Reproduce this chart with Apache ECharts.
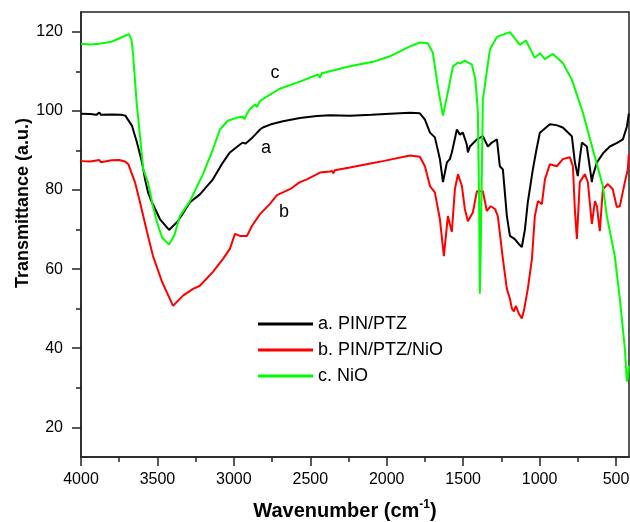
<!DOCTYPE html>
<html>
<head>
<meta charset="utf-8">
<script src="https://cdn.jsdelivr.net/npm/echarts@6/dist/echarts.min.js"></script>
<style>
html,body{margin:0;padding:0;background:#fff;}
#chart{width:630px;height:522px;}
</style>
</head>
<body>
<div id="chart"></div>
<script>
// Series names
const seriesNames = ['a. PIN/PTZ', 'b. PIN/PTZ/NiO', 'c. NiO'];
const seriesColors = ['#000000', '#ff0000', '#00ff00'];

// Tick values
const xTicks = [500, 1000, 1500, 2000, 2500, 3000, 3500, 4000];
const xMinorTicks = [750, 1250, 1750, 2250, 2750, 3250, 3750];
const yTicks = [20, 40, 60, 80, 100, 120];
const yMinorTicks = [30, 50, 70, 90, 110];

// Curve a. PIN/PTZ  [wavenumber, transmittance]
const curveA = [
  [4000,99.3],[3940,99.2],[3900,99.0],[3880,99.6],[3870,99.0],[3800,99.1],[3740,99.0],[3710,98.8],
  [3699,98.5],[3666,96.2],[3634,92.0],[3601,87.0],[3580,82.5],[3560,79.2],[3536,76.9],[3483,72.6],
  [3424,69.9],[3366,72.1],[3287,76.9],[3222,78.9],[3137,82.7],[3071,87.0],[3026,89.5],[2960,91.5],
  [2941,92.0],[2925,91.7],[2914,91.2],[2900,92.5],[2880,93.2],[2860,94.0],[2849,94.5],[2829,95.3],
  [2810,95.8],[2750,96.7],[2679,97.4],[2568,98.2],[2457,98.7],[2372,98.9],[2241,98.8],[2100,99.0],
  [1979,99.3],[1848,99.5],[1783,99.4],[1750,97.8],[1717,94.5],[1685,93.3],[1652,87.8],[1632,82.0],
  [1606,87.0],[1587,87.8],[1574,89.5],[1541,95.3],[1521,94.0],[1502,94.5],[1476,91.5],[1469,89.5],
  [1456,91.0],[1410,92.8],[1371,93.6],[1338,91.0],[1312,92.0],[1279,92.8],[1260,86.0],[1240,85.2],
  [1214,73.4],[1194,68.4],[1162,67.6],[1135,66.3],[1116,65.6],[1096,70.0],[1077,76.9],[1044,85.2],
  [1020,90.3],[998,94.5],[933,96.6],[890,96.4],[848,95.8],[789,93.6],[769,87.0],[750,83.5],
  [737,88.0],[723,92.0],[691,91.0],[665,84.0],[658,82.0],[652,83.5],[625,87.0],[580,89.5],
  [540,91.0],[490,92.0],[455,92.8],[429,96.0],[416,99.3]
];

// Curve b. PIN/PTZ/NiO
const curveB = [
  [4000,87.3],[3940,87.2],[3880,87.6],[3870,87.0],[3800,87.5],[3750,87.6],[3712,87.2],[3690,86.5],
  [3680,86.0],[3647,82.0],[3614,76.9],[3568,69.4],[3529,63.3],[3470,56.8],[3398,50.7],[3333,53.3],
  [3267,55.0],[3222,55.8],[3137,59.3],[3071,62.6],[3026,65.1],[2993,68.9],[2960,68.4],[2914,68.4],
  [2882,70.9],[2829,73.9],[2764,76.5],[2718,78.7],[2633,80.2],[2568,82.0],[2522,82.7],[2437,84.4],
  [2372,84.7],[2358,84.8],[2350,84.2],[2340,85.0],[2241,85.7],[2064,87.0],[2025,87.3],[1848,88.7],
  [1783,88.4],[1750,86.0],[1717,81.0],[1685,79.4],[1652,72.6],[1626,63.3],[1600,73.4],[1574,69.4],
  [1554,80.2],[1534,84.0],[1508,81.0],[1489,75.2],[1469,72.1],[1436,74.4],[1410,79.7],[1371,79.7],
  [1345,74.7],[1319,75.9],[1292,75.2],[1273,73.4],[1240,62.6],[1214,55.0],[1194,52.5],[1181,50.0],
  [1168,49.3],[1155,50.7],[1135,48.7],[1116,47.5],[1100,50.0],[1077,55.0],[1050,62.6],[1031,73.4],
  [1011,77.2],[985,76.4],[965,82.7],[933,86.5],[887,86.0],[848,87.8],[802,88.3],[782,86.0],
  [769,75.0],[756,67.6],[737,82.0],[704,84.0],[684,82.0],[658,71.4],[638,77.2],[625,75.9],
  [606,69.6],[586,80.2],[553,81.5],[521,80.2],[495,75.7],[475,75.9],[442,82.0],[423,85.2],[416,89.0]
];

// Curve c. NiO
const curveC = [
  [4000,117.0],[3940,116.8],[3880,117.0],[3800,117.5],[3750,118.3],[3712,119.0],[3700,119.3],
  [3686,119.4],[3670,118.0],[3660,114.7],[3636,102.1],[3614,93.6],[3593,85.2],[3562,82.0],
  [3530,76.0],[3503,71.9],[3470,68.0],[3424,66.2],[3390,68.5],[3353,73.4],[3287,77.2],[3202,84.0],
  [3137,90.3],[3091,95.3],[3040,97.5],[2980,98.3],[2941,98.5],[2930,97.9],[2914,99.3],[2895,100.5],
  [2860,101.6],[2849,101.0],[2829,102.5],[2764,104.1],[2700,105.6],[2568,107.4],[2450,109.2],
  [2437,108.4],[2425,109.5],[2241,111.3],[2090,112.4],[1979,113.8],[1900,115.3],[1848,116.3],
  [1783,117.3],[1731,117.1],[1698,114.7],[1665,106.0],[1632,98.8],[1606,103.6],[1567,111.2],
  [1534,112.2],[1520,112.0],[1489,112.7],[1443,111.7],[1420,108.0],[1404,100.0],[1395,75.0],
  [1391,53.8],[1385,65.0],[1371,102.9],[1325,115.5],[1279,118.7],[1194,119.9],[1129,116.7],
  [1090,117.8],[1031,113.4],[998,114.6],[965,113.1],[913,114.4],[848,112.1],[789,107.9],
  [717,99.6],[652,90.3],[586,81.0],[560,73.4],[508,63.3],[475,52.5],[442,39.9],[429,31.6],
  [423,32.5],[416,35.6]
];

const curves = [curveA, curveB, curveC];
const FONT = "'Liberation Sans', Arial, sans-serif";

const chart = echarts.init(document.getElementById('chart'), null, {renderer: 'canvas'});

const axisLineStyle = {color: '#222', width: 1.5};
const plain = v => String(v);

const option = {
  backgroundColor: '#fff',
  animation: false,
  grid: {left: 81, right: 1, top: 12, bottom: 65, containLabel: false, outerBoundsMode: 'none',
         show: true, borderColor: '#222', borderWidth: 1.5, backgroundColor: 'transparent'},
  legend: {
    orient: 'vertical', left: 258, top: 314, padding: 0, itemWidth: 55, itemHeight: 3, itemGap: 6, icon: 'rect',
    textStyle: {fontSize: 18, fontFamily: FONT, color: '#000', lineHeight: 20},
    data: seriesNames
  },
  xAxis: [
    {
      type: 'value', inverse: true, min: 415, max: 4000, position: 'bottom',
      axisLine: {show: true, lineStyle: axisLineStyle},
      axisTick: {show: true, inside: false, length: 9, lineStyle: axisLineStyle, customValues: xTicks},
      axisLabel: {show: true, fontSize: 16, fontFamily: FONT, color: '#000', margin: 15, customValues: xTicks, formatter: plain},
      splitLine: {show: false}
    },
    {
      type: 'value', inverse: true, min: 415, max: 4000, position: 'bottom',
      axisLine: {show: false},
      axisTick: {show: true, inside: false, length: 5, lineStyle: axisLineStyle, customValues: xMinorTicks},
      axisLabel: {show: false},
      splitLine: {show: false}
    }
  ],
  yAxis: [
    {
      type: 'value', min: 12.5, max: 125, position: 'left',
      axisLine: {show: true, lineStyle: axisLineStyle},
      axisTick: {show: true, inside: false, length: 9, lineStyle: axisLineStyle, customValues: yTicks},
      axisLabel: {show: true, fontSize: 16, fontFamily: FONT, color: '#000', margin: 18, customValues: yTicks, formatter: plain},
      splitLine: {show: false}
    },
    {
      type: 'value', min: 12.5, max: 125, position: 'left',
      axisLine: {show: false},
      axisTick: {show: true, inside: false, length: 5, lineStyle: axisLineStyle, customValues: yMinorTicks},
      axisLabel: {show: false},
      splitLine: {show: false}
    }
  ],
  series: curves.map((c, i) => ({
    name: seriesNames[i], type: 'line', data: c, xAxisIndex: 0, yAxisIndex: 0,
    showSymbol: false, symbol: 'none', smooth: false,
    lineStyle: {color: seriesColors[i], width: 2}, itemStyle: {color: seriesColors[i]},
    z: 2 + i
  })),
  graphic: [
    {type: 'text', x: 23, y: 203, rotation: Math.PI / 2,
     style: {text: 'Transmittance (a.u.)', fontSize: 18, fontWeight: 'bold', fontFamily: FONT, fill: '#000', align: 'center', verticalAlign: 'middle'}},
    {type: 'text', x: 345, y: 511,
     style: {text: '{a|Wavenumber (cm}{s|-1}{a|)}', align: 'center', verticalAlign: 'middle',
       rich: {
         a: {fontSize: 20, fontWeight: 'bold', fontFamily: FONT, fill: '#000', color: '#000'},
         s: {fontSize: 12, fontWeight: 'bold', fontFamily: FONT, fill: '#000', color: '#000', padding: [0, 0, 12, 0]}
       }}},
    {type: 'text', x: 275, y: 73, style: {text: 'c', fontSize: 18, fontFamily: FONT, fill: '#000', align: 'center', verticalAlign: 'middle'}},
    {type: 'text', x: 266, y: 148, style: {text: 'a', fontSize: 18, fontFamily: FONT, fill: '#000', align: 'center', verticalAlign: 'middle'}},
    {type: 'text', x: 284, y: 212, style: {text: 'b', fontSize: 18, fontFamily: FONT, fill: '#000', align: 'center', verticalAlign: 'middle'}}
  ]
};

chart.setOption(option);
</script>
</body>
</html>
